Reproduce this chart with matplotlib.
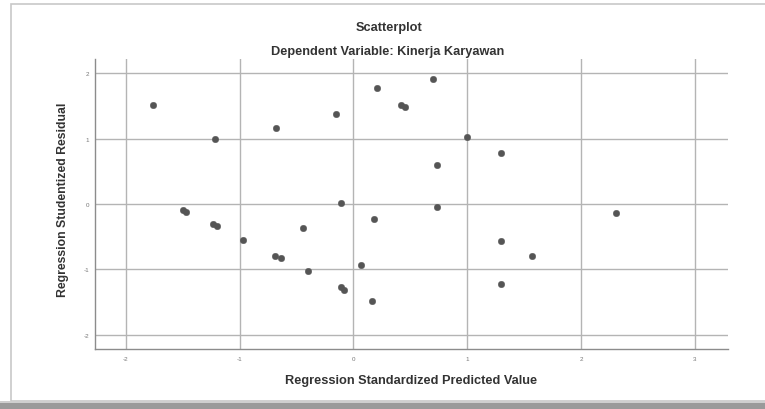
import matplotlib
matplotlib.use('Agg')
import matplotlib.pyplot as plt
from matplotlib.patches import Rectangle

# values
pred = [-1.76, -1.22, -0.68, -0.15, 0.21, -1.50, -1.47, -1.23, -1.20, -0.97,
        -0.69, -0.64, -0.44, -0.40, -0.11, 0.18, 0.07, -0.11, -0.08, 0.16,
        0.70, 0.42, 0.45, 1.00, 1.30, 0.73, 0.73, 2.31, 1.30, 1.57, 1.30]
resid = [1.51, 0.99, 1.16, 1.38, 1.78, -0.09, -0.12, -0.31, -0.33, -0.55,
         -0.79, -0.83, -0.36, -1.02, 0.02, -0.23, -0.93, -1.27, -1.31, -1.49,
         1.91, 1.51, 1.48, 1.02, 0.78, 0.60, -0.05, -0.14, -0.56, -0.80, -1.23]
xticks = [-2, -1, 0, 1, 2, 3]
yticks = [-2, -1, 0, 1, 2]

plt.rcParams['font.family'] = ['Liberation Sans', 'DejaVu Sans']

fig = plt.figure(figsize=(7.65, 4.1), dpi=100)
fig.patch.set_facecolor('white')

# screenshot frame
fig.add_artist(Rectangle((11/765, 8/410), 1, 397/410, transform=fig.transFigure,
                         fill=False, edgecolor='#c8c8c8', lw=1.2))
fig.add_artist(Rectangle((0, 0), 1, 8/410, transform=fig.transFigure,
                         facecolor='#9a9a9a', edgecolor='none'))
fig.add_artist(Rectangle((0, 6/410), 1, 2/410, transform=fig.transFigure,
                         facecolor='#cfcfcf', edgecolor='none'))

ax = fig.add_axes([95/765, 60/410, 633/765, 290/410])
ax.set_xlim(-2.27, 3.29)
ax.set_ylim(-2.22, 2.22)
ax.set_xticks(xticks)
ax.set_yticks(yticks)
ax.set_xticklabels([str(v) for v in xticks])
ax.set_yticklabels([str(v) for v in yticks])
ax.grid(True, color='#b4b4b4', lw=1.0)
ax.set_axisbelow(True)
for s in ['top', 'right']:
    ax.spines[s].set_visible(False)
for s in ['left', 'bottom']:
    ax.spines[s].set_color('#8c8c8c')
    ax.spines[s].set_linewidth(1.0)
ax.tick_params(length=0, labelsize=4.5, colors='#777777')
ax.tick_params(axis='x', pad=5)
ax.tick_params(axis='y', pad=4)

ax.scatter(pred, resid, s=22, color='#555555', edgecolors='#555555', linewidths=0.3, zorder=3)

fig.text(389/765, 1 - 28/410, 'Scatterplot', ha='center', va='center',
         fontsize=9.2, fontweight='bold', color='#333333')
fig.text(388/765, 1 - 52/410, 'Dependent Variable: Kinerja Karyawan', ha='center', va='center',
         fontsize=9.2, fontweight='bold', color='#333333')
fig.text(411/765, 1 - 381/410, 'Regression Standardized Predicted Value', ha='center', va='center',
         fontsize=9.2, fontweight='bold', color='#333333')
fig.text(63/765, 1 - 200/410, 'Regression Studentized Residual', ha='center', va='center',
         rotation=90, fontsize=8.8, fontweight='bold', color='#333333')

fig.savefig('out.png', dpi=100)
